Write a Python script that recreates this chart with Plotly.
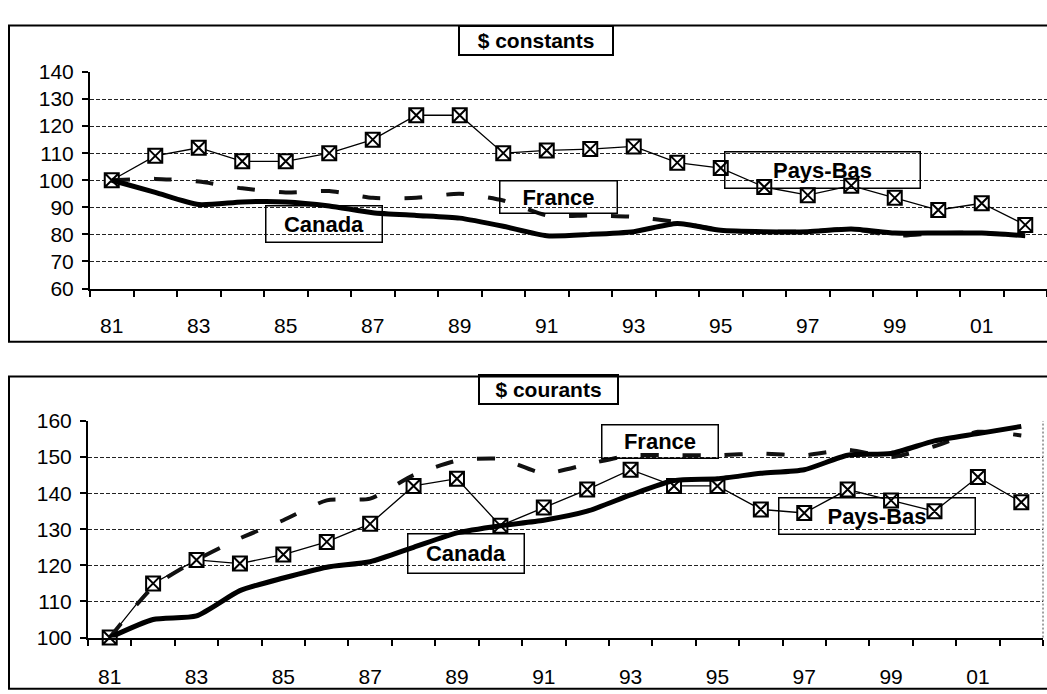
import plotly.graph_objects as go

# Indices 1981 = 100, constant and current dollars
years = ['81', '82', '83', '84', '85', '86', '87', '88', '89', '90', '91',
         '92', '93', '94', '95', '96', '97', '98', '99', '00', '01', '02']
year_labels = [y if i % 2 == 0 else '' for i, y in enumerate(years)]

const_pays_bas = [100, 109, 112, 107, 107, 110, 115, 124, 124, 110, 111,
                  111.5, 112.5, 106.5, 104.5, 97.5, 94.5, 98, 93.5, 89, 91.5, 83.5]
const_france = [100, 100.5, 99.5, 97, 95.5, 96, 93.5, 93.5, 95, 92.5, 87,
                87, 86.5, 84.5, 81.5, 81, 81, 82, 79.5, 80.5, 80.5, 79.5]
const_canada = [100, 95.5, 91, 92, 92, 90.5, 88, 87, 86, 83, 79.5,
                80, 81, 84, 81.5, 81, 81, 82, 80.5, 80.5, 80.5, 79.5]

cour_pays_bas = [100, 115, 121.5, 120.5, 123, 126.5, 131.5, 142, 144, 131, 136,
                 141, 146.5, 142, 142, 135.5, 134.5, 141, 138, 135, 144.5, 137.5]
cour_france = [100, 114, 121.5, 127.5, 132.5, 138, 138.5, 145, 149, 149.5, 145.5,
               148, 150.5, 150.5, 150.5, 151, 150.5, 152, 150, 153, 157, 156]
cour_canada = [100, 105, 106, 113, 116.5, 119.5, 121, 125, 129, 131, 132.5,
               135, 139.5, 143.5, 144, 145.5, 146.5, 150.5, 151, 154.5, 156.5, 158.5]

W, H = 1047, 694
FONT = "Liberation Sans, Arial, sans-serif"


def px_x(x):
    return x / W


def px_y(y):
    return 1 - y / H


fig = go.Figure()


def add_panel(xa, ya, pb, fr, ca):
    # Pays-Bas: thin line with boxed-cross markers
    fig.add_trace(go.Scatter(
        x=years, y=pb, xaxis=xa, yaxis=ya, mode='lines+markers',
        line=dict(color='black', width=1.3),
        marker=dict(symbol='square-x', size=14, color='white',
                    line=dict(color='black', width=2)),
        showlegend=False, cliponaxis=False))
    # France: dashed smoothed line
    fig.add_trace(go.Scatter(
        x=years, y=fr, xaxis=xa, yaxis=ya, mode='lines',
        line=dict(color='#111', width=4, dash='18px,24px', shape='spline', smoothing=0.6),
        showlegend=False))
    # Canada: heavy smoothed line
    fig.add_trace(go.Scatter(
        x=years, y=ca, xaxis=xa, yaxis=ya, mode='lines',
        line=dict(color='black', width=5, shape='spline', smoothing=0.6),
        showlegend=False))


add_panel('x', 'y', const_pays_bas, const_france, const_canada)
add_panel('x2', 'y2', cour_pays_bas, cour_france, cour_canada)

tickfont = dict(family=FONT, size=21, color='black')

xcommon = dict(type='category', range=[-0.5, len(years) - 0.5],
               tickmode='array', tickvals=years, ticktext=year_labels,
               tickson='boundaries', ticks='outside', ticklen=6, tickwidth=1.5,
               tickcolor='black', showline=True, linecolor='black', linewidth=2,
               showgrid=False, zeroline=False, tickfont=tickfont,
               fixedrange=True)
ycommon = dict(ticks='outside', ticklen=6, tickwidth=1.5, tickcolor='black',
               showline=True, linecolor='black', linewidth=2,
               showgrid=True, gridcolor='#222', gridwidth=1, griddash='4px,2px',
               zeroline=False, tickfont=tickfont, ticklabelstandoff=4,
               fixedrange=True)

fig.update_layout(
    width=W, height=H, margin=dict(l=0, r=0, t=0, b=0),
    paper_bgcolor='white', plot_bgcolor='white',
    xaxis=dict(xcommon, domain=[px_x(90), px_x(1047)], anchor='y',
               ticklabelstandoff=17),
    yaxis=dict(ycommon, domain=[px_y(286), px_y(62)], range=[60, 140],
               tickvals=list(range(60, 141, 10)), anchor='x'),
    xaxis2=dict(xcommon, domain=[px_x(88), px_x(1043)], anchor='y2',
                ticklabelstandoff=19),
    yaxis2=dict(ycommon, domain=[px_y(647), px_y(423)], range=[100, 160],
                tickvals=list(range(100, 161, 10)), anchor='x2'),
)

# Panel frames and the right border of the lower plot
shapes = [
    dict(type='rect', xref='paper', yref='paper', x0=px_x(9), x1=px_x(1052),
         y0=px_y(341), y1=px_y(14), line=dict(color='black', width=2)),
    dict(type='rect', xref='paper', yref='paper', x0=px_x(9), x1=px_x(1052),
         y0=px_y(700), y1=px_y(377), line=dict(color='black', width=2)),
    dict(type='line', xref='paper', yref='paper', x0=px_x(1043), x1=px_x(1043),
         y0=px_y(647), y1=px_y(423), line=dict(color='#444', width=1, dash='2px,2px')),
]
fig.update_layout(shapes=shapes)


def box_label(text, cx, cy, w, h, size=22, bw=1.5):
    fig.add_annotation(
        text='<b>%s</b>' % text, xref='paper', yref='paper',
        x=px_x(cx), y=px_y(cy), xanchor='center', yanchor='middle',
        width=w - 2 * bw, height=h - 2 * bw, borderpad=0, borderwidth=bw,
        bordercolor='black', bgcolor='rgba(0,0,0,0)', showarrow=False,
        font=dict(family=FONT, size=size, color='black'), align='center', valign='middle')


# Titles
box_label('$ constants', 536, 29.5, 156, 31, size=21, bw=2)
box_label('$ courants', 548.5, 390.5, 141, 31, size=21, bw=2)

# Series labels, upper panel
box_label('Canada', 324, 219, 118, 38)
box_label('France', 558.5, 191, 119, 34)
box_label('Pays-Bas', 822.5, 163, 197, 38)

# Series labels, lower panel
box_label('France', 660, 444.5, 118, 35)
box_label('Canada', 466, 560.5, 118, 41)
box_label('Pays-Bas', 877, 521, 198, 38)

fig.write_html('out.html')
